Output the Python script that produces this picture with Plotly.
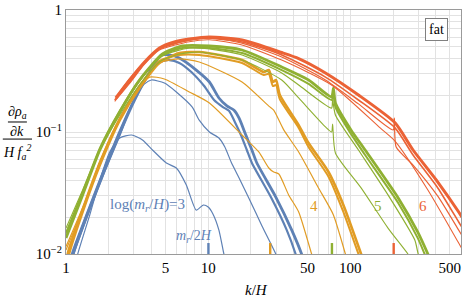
import numpy as np
import plotly.graph_objects as go

BLUE = "#5E81B5"
ORANGE = "#E19C24"
GREEN = "#8FB032"
RED = "#EB6235"
FONT = "Liberation Serif"

# ---- blue family, log(m_r/H)=3 ----
blue1_k = [1.09, 1.12, 1.47, 1.87, 2.39, 3.04, 3.87, 4.69, 5.33, 6.27, 8.24, 10.2, 11.9, 13.6, 15.2, 16.5, 18.4, 20.3, 22.0, 29.9, 38.7, 45.4, 47.0]
blue1_v = [0.0085, 0.0100, 0.0238, 0.0488, 0.098, 0.183, 0.31, 0.428, 0.428, 0.404, 0.322, 0.257, 0.19, 0.163, 0.151, 0.13, 0.0945, 0.0712, 0.0557, 0.0293, 0.0157, 0.0100, 0.0088]
blue2_k = [1.07, 1.10, 1.47, 1.87, 2.39, 3.04, 3.87, 4.54, 5.33, 6.27, 7.61, 9.37, 11.0, 12.7, 14.0, 15.4, 17.0, 18.7, 20.3, 27.6, 35.7, 41.2, 42.5]
blue2_v = [0.0085, 0.0100, 0.0247, 0.0507, 0.102, 0.187, 0.305, 0.375, 0.389, 0.368, 0.31, 0.238, 0.183, 0.16, 0.149, 0.121, 0.0945, 0.0712, 0.0557, 0.0293, 0.0157, 0.0100, 0.0088]
blue3_k = [1.11, 1.14, 1.47, 1.87, 2.39, 3.04, 3.57, 3.99, 4.92, 5.97, 7.73, 8.65, 10.2, 11.9, 13.1, 14.5, 16.5, 19.3, 23.9, 29.9, 31.0]
blue3_v = [0.0085, 0.0100, 0.0229, 0.047, 0.0927, 0.19, 0.248, 0.267, 0.252, 0.213, 0.16, 0.125, 0.100, 0.0893, 0.0753, 0.0568, 0.042, 0.0288, 0.017, 0.0100, 0.0088]
blue4_k = [1.18, 1.21, 1.47, 1.73, 2.03, 2.39, 2.89, 3.45, 4.06, 5.08, 5.97, 7.02, 8.24, 9.23, 10.0, 10.8, 11.9, 12.9, 13.3]
blue4_v = [0.0085, 0.0100, 0.0209, 0.0404, 0.0686, 0.0893, 0.0945, 0.086, 0.0712, 0.0557, 0.0507, 0.0368, 0.0229, 0.0252, 0.0243, 0.0213, 0.0157, 0.0100, 0.0088]

# ---- orange family, log(m_r/H)=4 ----
orange1_k = [1.03, 1.05, 1.36, 1.73, 2.39, 3.29, 4.54, 6.27, 8.65, 17.3, 24.6, 26.7, 28.5, 30.0, 31.9, 43.3, 50.8, 70.2, 89.3, 119, 123]
orange1_v = [0.0088, 0.0100, 0.0252, 0.0536, 0.125, 0.229, 0.368, 0.444, 0.452, 0.389, 0.31, 0.322, 0.257, 0.267, 0.201, 0.114, 0.0812, 0.047, 0.0252, 0.0100, 0.0090]
orange2_k = [1.01, 1.03, 1.36, 1.73, 2.39, 3.29, 4.54, 6.27, 8.65, 17.3, 24.6, 26.7, 28.5, 30.0, 31.9, 43.3, 50.8, 70.2, 89.3, 114, 118]
orange2_v = [0.0090, 0.0104, 0.0267, 0.0568, 0.13, 0.238, 0.382, 0.428, 0.428, 0.368, 0.293, 0.30, 0.238, 0.243, 0.186, 0.108, 0.0753, 0.043, 0.0221, 0.0100, 0.0090]
orange3_k = [1.0, 1.36, 1.73, 2.39, 3.29, 4.54, 6.27, 8.65, 17.3, 26.7, 28.9, 34.0, 43.3, 59.7, 76.0, 92.3, 95.0]
orange3_v = [0.0108, 0.026, 0.0568, 0.13, 0.243, 0.368, 0.397, 0.375, 0.257, 0.163, 0.151, 0.104, 0.0686, 0.0348, 0.0209, 0.0100, 0.0090]
orange4_k = [1.0, 1.36, 1.73, 2.39, 3.04, 3.87, 4.92, 7.36, 10.2, 17.3, 22.7, 26.7, 28.9, 31.4, 36.8, 43.3, 53.4, 55.0]
orange4_v = [0.0115, 0.0267, 0.0568, 0.125, 0.209, 0.282, 0.272, 0.213, 0.173, 0.0945, 0.0686, 0.0507, 0.047, 0.0453, 0.0305, 0.0221, 0.0100, 0.0090]

# ---- green family, log(m_r/H)=5 ----
green1_k = [1.0, 1.31, 1.73, 2.39, 3.29, 4.77, 6.58, 10.2, 17.3, 32.9, 50.8, 73.8, 76.0, 78.5, 101, 127, 217, 298, 351, 362]
green1_v = [0.0135, 0.0305, 0.0712, 0.146, 0.267, 0.436, 0.507, 0.507, 0.47, 0.341, 0.267, 0.194, 0.229, 0.173, 0.104, 0.0712, 0.0288, 0.0151, 0.0100, 0.0092]
green2_k = [1.0, 1.31, 1.73, 2.39, 3.29, 4.77, 6.58, 10.2, 17.3, 32.9, 50.8, 73.8, 76.0, 78.5, 101, 127, 217, 298, 333, 343]
green2_v = [0.0149, 0.0322, 0.0736, 0.149, 0.267, 0.428, 0.488, 0.488, 0.444, 0.322, 0.248, 0.183, 0.213, 0.16, 0.0965, 0.0648, 0.0262, 0.0135, 0.0100, 0.0092]
green3_k = [1.0, 1.31, 1.73, 2.39, 3.29, 4.77, 7.36, 10.2, 17.3, 32.9, 43.3, 73.8, 75.0, 78.5, 114, 184, 284, 300, 310]
green3_v = [0.0141, 0.031, 0.072, 0.145, 0.26, 0.42, 0.488, 0.48, 0.428, 0.305, 0.243, 0.157, 0.183, 0.138, 0.0712, 0.0305, 0.013, 0.0100, 0.0092]
green4_k = [1.0, 1.31, 1.73, 2.39, 3.29, 4.54, 6.27, 8.65, 17.3, 32.9, 43.3, 66.8, 73.8, 75.0, 78.5, 119, 184, 254, 265]
green4_v = [0.0163, 0.0335, 0.0712, 0.138, 0.243, 0.375, 0.436, 0.452, 0.389, 0.267, 0.19, 0.11, 0.10, 0.116, 0.0673, 0.0348, 0.0163, 0.0100, 0.0092]

# ---- red family, log(m_r/H)=6 ----
red1_k = [2.24, 2.80, 3.57, 4.54, 5.78, 7.36, 10.2, 17.3, 32.9, 43.3, 66.8, 114, 206, 276, 412, 578, 610]
red1_v = [0.190, 0.267, 0.375, 0.488, 0.547, 0.578, 0.601, 0.567, 0.448, 0.40, 0.305, 0.201, 0.119, 0.0712, 0.0389, 0.0221, 0.020]
red2_k = [2.2, 2.80, 3.57, 4.54, 7.36, 10.2, 17.3, 32.9, 66.8, 114, 206, 276, 412, 578, 610]
red2_v = [0.183, 0.257, 0.368, 0.48, 0.567, 0.589, 0.547, 0.428, 0.282, 0.183, 0.108, 0.0648, 0.0348, 0.0183, 0.0165]
red3_k = [2.3, 2.80, 3.57, 4.54, 7.36, 10.2, 17.3, 32.9, 66.8, 114, 200, 204, 210, 276, 412, 578, 610]
red3_v = [0.20, 0.272, 0.375, 0.488, 0.567, 0.589, 0.535, 0.412, 0.267, 0.17, 0.104, 0.130, 0.0753, 0.0536, 0.0298, 0.0157, 0.0142]
red4_k = [2.2, 2.80, 3.57, 4.54, 7.36, 10.2, 17.3, 32.9, 73.8, 162, 206, 351, 578, 610]
red4_v = [0.178, 0.25, 0.36, 0.47, 0.55, 0.57, 0.517, 0.389, 0.243, 0.108, 0.0843, 0.0335, 0.0123, 0.011]

# m_r/2H markers on the k axis (k = e^n / 2, n = 3..6)
marker_k = [10.04, 27.3, 74.2, 201.7]
marker_colors = [BLUE, ORANGE, GREEN, RED]
marker_v = [0.0100, 0.0123]

x_major = [1, 5, 10, 50, 100, 500]
y_labels = {0.01: "10<sup>\u22122</sup>", 0.1: "10<sup>\u22121</sup>", 1.0: "1"}

curves = [
    (blue4_k, blue4_v, BLUE, 1.2), (blue3_k, blue3_v, BLUE, 1.2),
    (blue2_k, blue2_v, BLUE, 2.2), (blue1_k, blue1_v, BLUE, 2.8),
    (orange4_k, orange4_v, ORANGE, 1.2), (orange3_k, orange3_v, ORANGE, 1.2),
    (orange2_k, orange2_v, ORANGE, 2.0), (orange1_k, orange1_v, ORANGE, 2.6),
    (green4_k, green4_v, GREEN, 1.1), (green3_k, green3_v, GREEN, 1.2),
    (green2_k, green2_v, GREEN, 2.0), (green1_k, green1_v, GREEN, 2.8),
    (red4_k, red4_v, RED, 1.1), (red3_k, red3_v, RED, 1.2),
    (red2_k, red2_v, RED, 1.6), (red1_k, red1_v, RED, 3.0),
]

fig = go.Figure()
for kk, vv, col, w in curves:
    fig.add_trace(go.Scatter(x=kk, y=vv, mode="lines",
                             line=dict(color=col, width=w, shape="spline", smoothing=0.6),
                             hoverinfo="skip"))
for mk, mc in zip(marker_k, marker_colors):
    fig.add_trace(go.Scatter(x=[mk, mk], y=marker_v, mode="lines",
                             line=dict(color=mc, width=2.4), hoverinfo="skip"))

x_grid = [m * 10 ** e for e in range(0, 3) for m in range(1, 10)]
x_grid = [v for v in x_grid if v <= 600]
x_text = [str(v) if v in x_major else "" for v in x_grid]
y_grid = [round(m * 10.0 ** e, 6) for e in (-2, -1) for m in range(1, 10)] + [1.0]
y_text = [y_labels.get(v, "") for v in y_grid]

fig.update_xaxes(type="log", range=[0, np.log10(600)], tickvals=x_grid, ticktext=x_text,
                 showgrid=True, gridcolor="#e2e2e2", gridwidth=1, zeroline=False,
                 showline=True, mirror=True, linecolor="#9a9a9a", linewidth=1, ticks="",
                 automargin=False,
                 tickfont=dict(family=FONT, size=15, color="black"))
fig.update_yaxes(type="log", range=[-2, 0], tickvals=y_grid, ticktext=y_text,
                 showgrid=True, gridcolor="#e2e2e2", gridwidth=1, zeroline=False,
                 showline=True, mirror=True, linecolor="#9a9a9a", linewidth=1, ticks="",
                 automargin=False,
                 tickfont=dict(family=FONT, size=15, color="black"))

ann = []
def txt(text, x, y, color="black", size=15, xref="x", yref="y", **kw):
    ann.append(dict(text=text, x=x, y=y, xref=xref, yref=yref, showarrow=False,
                    font=dict(family=FONT, size=size, color=color),
                    xanchor="center", yanchor="middle", **kw))

txt("log(<i>m<sub>r</sub></i>/<i>H</i>)=3", np.log10(3.75), np.log10(0.0252), BLUE, 15)
txt("<i>m<sub>r</sub></i>/2<i>H</i>", np.log10(7.98), np.log10(0.0138), BLUE, 14)
txt("4", np.log10(55.1), np.log10(0.0247), ORANGE, 15)
txt("5", np.log10(157), np.log10(0.0247), GREEN, 15)
txt("6", np.log10(324), np.log10(0.0247), RED, 15)
txt("<i>k</i>/<i>H</i>", np.log10(22), -0.1475, "black", 15, yref="paper")
txt("fat", 0.939, 0.922, "black", 14, xref="paper", yref="paper",
    bordercolor="#808080", borderwidth=1, borderpad=3, bgcolor="white")
# y-axis label as a stacked fraction
txt("<i>\u2202\u03c1<sub>a</sub></i>", -0.124, 0.578, "black", 14, xref="paper", yref="paper")
txt("<i>\u2202k</i>", -0.124, 0.504, "black", 14, xref="paper", yref="paper")
txt("<i>H f<sub>a</sub><sup>2</sup></i>", -0.124, 0.418, "black", 14, xref="paper", yref="paper")

shapes = [
    dict(type="line", xref="paper", yref="paper", x0=-0.147, x1=-0.099, y0=0.541, y1=0.541,
         line=dict(color="black", width=1)),
    dict(type="line", xref="paper", yref="paper", x0=-0.16, x1=-0.086, y0=0.471, y1=0.471,
         line=dict(color="black", width=1)),
]

fig.update_layout(width=463, height=300, margin=dict(l=66, r=2, t=10, b=46),
                  plot_bgcolor="white", paper_bgcolor="white", showlegend=False,
                  annotations=ann, shapes=shapes)

fig.write_html("out.html", config={"displayModeBar": False},
               post_script="document.body.style.margin='0px';document.body.style.overflow='hidden';")
